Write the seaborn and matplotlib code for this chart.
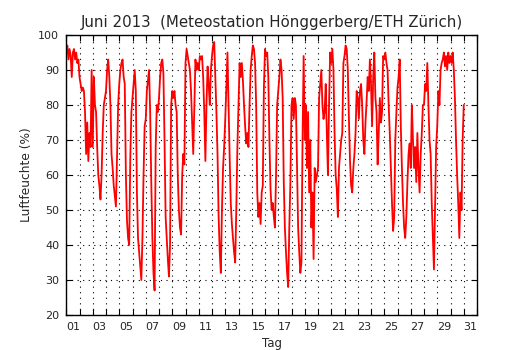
import numpy as np
import pandas as pd
import seaborn as sns
import matplotlib.pyplot as plt
from matplotlib.ticker import FixedLocator, MultipleLocator

# relative Luftfeuchte Juni 2013, 2-stündlich (12 Werte pro Tag)
hum_01_06 = [
    95, 97, 93, 96, 94, 88, 95, 96, 93, 95, 92, 93,
    88, 86, 84, 85, 84, 78, 66, 75, 64, 72, 68, 90,
    68, 88, 80, 78, 68, 60, 57, 53, 60, 72, 80, 82,
    84, 90, 93, 88, 80, 66, 62, 57, 54, 51, 65, 80,
    86, 90, 92, 93, 88, 86, 60, 47, 42, 40, 65, 78,
    82, 86, 90, 84, 55, 42, 38, 34, 30, 42, 60, 74,
]
hum_07_12 = [
    76, 84, 87, 90, 78, 58, 42, 32, 27, 68, 80, 78,
    82, 88, 92, 93, 89, 70, 48, 42, 36, 31, 40, 80,
    84, 82, 84, 80, 78, 60, 50, 45, 43, 60, 66, 63,
    92, 96, 94, 92, 90, 84, 75, 66, 80, 93, 90, 92,
    90, 94, 93, 94, 88, 78, 64, 80, 91, 86, 80, 90,
    94, 97, 98, 88, 78, 66, 48, 38, 32, 50, 62, 68,
]
hum_13_18 = [
    76, 85, 95, 80, 65, 52, 46, 42, 38, 35, 50, 68,
    80, 92, 88, 92, 87, 80, 74, 69, 72, 68, 80, 90,
    94, 97, 96, 92, 80, 55, 48, 52, 46, 55, 57, 85,
    96, 94, 95, 88, 70, 56, 50, 52, 48, 45, 60, 80,
    84, 88, 93, 90, 82, 58, 45, 38, 32, 28, 45, 58,
    80, 82, 76, 82, 80, 62, 45, 38, 32, 35, 70, 94,
]
hum_19_24 = [
    70, 80, 62, 78, 55, 70, 45, 55, 36, 62, 58, 60,
    62, 82, 86, 90, 80, 76, 78, 86, 72, 60, 80, 95,
    92, 96, 90, 72, 60, 56, 48, 62, 66, 70, 72, 92,
    94, 97, 96, 90, 76, 64, 57, 55, 62, 66, 72, 84,
    82, 76, 84, 86, 80, 70, 66, 75, 81, 88, 84, 93,
    86, 74, 88, 95, 82, 78, 63, 72, 82, 75, 78, 94,
]
hum_25_30 = [
    93, 95, 92, 90, 80, 72, 62, 52, 44, 48, 70, 78,
    85, 88, 93, 74, 62, 52, 45, 42, 48, 58, 66, 69,
    62, 80, 70, 62, 68, 58, 72, 62, 55, 66, 72, 80,
    80, 86, 84, 92, 80, 70, 66, 52, 42, 33, 50, 68,
    74, 84, 80, 90, 92, 93, 95, 91, 94, 90, 95, 92,
    94, 92, 95, 90, 82, 70, 60, 52, 42, 55, 50, 70,
    80,
]

tag_labels = ['01', '03', '05', '07', '09', '11', '13', '15',
              '17', '19', '21', '23', '25', '27', '29', '31']

rh = hum_01_06 + hum_07_12 + hum_13_18 + hum_19_24 + hum_25_30
df = pd.DataFrame({'tag': np.arange(len(rh)) / 12.0, 'rh': rh})

sns.set_style('ticks')
plt.rcParams['font.family'] = ['DejaVu Sans']

fig, ax = plt.subplots(figsize=(5.3, 3.5), dpi=100)
fig.subplots_adjust(left=0.125, right=0.9, bottom=0.1, top=0.9)

sns.lineplot(data=df, x='tag', y='rh', color='red', lw=1.3,
             estimator=None, ax=ax)

ax.set_xlim(0, 31)
ax.set_ylim(20, 100)

# Tageslabels in der Tagesmitte, Striche an den Tagesgrenzen
ax.xaxis.set_major_locator(FixedLocator(np.arange(0.5, 31, 2)))
ax.set_xticklabels(tag_labels)
ax.xaxis.set_minor_locator(MultipleLocator(1))
ax.yaxis.set_major_locator(MultipleLocator(10))

ax.tick_params(which='both', direction='in', top=True, right=True,
               color='k', labelsize=8, width=0.8)
ax.tick_params(axis='x', which='major', length=0, pad=5)
ax.tick_params(axis='x', which='minor', length=4)
ax.tick_params(axis='y', which='major', length=4, pad=5)

dots = (0, (1, 4))
ax.grid(True, which='minor', axis='x', ls=dots, color='k', lw=0.8)
ax.grid(True, which='major', axis='y', ls=dots, color='k', lw=0.8)
for s in ax.spines.values():
    s.set_color('k')
    s.set_linewidth(1.0)

ax.set_xlabel('Tag', fontsize=8.5)
ax.set_ylabel('Luftfeuchte (%)', fontsize=8.8)
ax.set_title('Juni 2013  (Meteostation Hönggerberg/ETH Zürich)', fontsize=10.8)

fig.savefig('out.png', dpi=100)
